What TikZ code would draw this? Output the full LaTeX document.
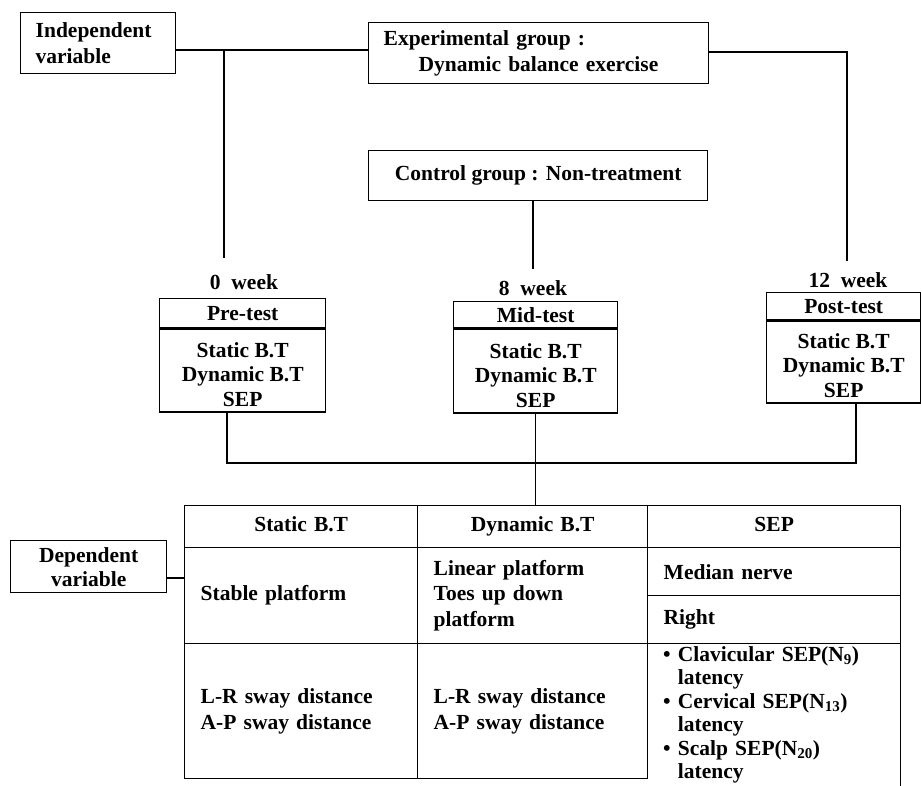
\documentclass[tikz,border=0pt]{standalone}
\usepackage{fontspec}
\setmainfont{Liberation Serif}
\begin{document}
\begin{tikzpicture}[x=1pt,y=-1pt,
  every node/.style={font=\fontsize{21.5}{25.5}\selectfont\bfseries},
  box/.style={draw, line width=1.4pt, inner sep=0pt},
  boxtext/.style={anchor=south, align=center, inner sep=0pt, font=\fontsize{21.5}{24.5}\selectfont\bfseries},
  cell/.style={draw, line width=1.4pt, anchor=north west, inner ysep=0pt, inner xsep=16pt, align=left},
  headcell/.style={cell, align=center, minimum height=42pt, text height=15pt, text depth=5pt},
  link/.style={line width=1.4pt}]
\useasboundingbox (0,0) rectangle (922,786);
\node[box, anchor=north west, minimum width=155pt, minimum height=61pt, text width=125pt, align=left] (indep) at (20,12) {Independent\\variable};
\node[box, anchor=north west, minimum width=340pt, minimum height=61pt, text width=310pt, align=left] (expgrp) at (368,22) {Experimental group :\\\hspace*{35pt}Dynamic balance exercise};
\node[box, anchor=north west, minimum width=339pt, minimum height=50pt] (ctrlgrp) at (368,150) {Control group : Non-treatment};
\node (wk0) at (244,282) {0\enspace week};
\node (wk8) at (533,288) {8\enspace week};
\node (wk12) at (848,280) {12\enspace week};
\node[box, anchor=north west, minimum width=166pt, minimum height=29pt] (prehead) at (159,298) {Pre-test};
\node[box, anchor=north, minimum width=166pt, minimum height=83pt] (prebody) at (prehead.south) {};
\node[boxtext] (pretext) at ([yshift=6pt]prebody.south) {Static B.T\\Dynamic B.T\\SEP};
\node[box, anchor=north west, minimum width=164pt, minimum height=26pt] (midhead) at (453,301) {Mid-test};
\node[box, anchor=north, minimum width=164pt, minimum height=84pt] (midbody) at (midhead.south) {};
\node[boxtext] (midtext) at ([yshift=6pt]midbody.south) {Static B.T\\Dynamic B.T\\SEP};
\node[box, anchor=north west, minimum width=154pt, minimum height=27pt] (posthead) at (766,292) {Post-test};
\node[box, anchor=north, minimum width=154pt, minimum height=82pt] (postbody) at (posthead.south) {};
\node[boxtext] (posttext) at ([yshift=6pt]postbody.south) {Static B.T\\Dynamic B.T\\SEP};
\coordinate (j0) at (224,50);
\coordinate (j0end) at (224,258);
\coordinate (jr) at (847,52);
\coordinate (jrend) at (847,261);
\coordinate (c8end) at (533,269);
\coordinate (b0) at (227,463);
\coordinate (b12) at (856,463);
\draw[link] (indep.east |- j0) -- (expgrp.west |- j0);
\draw[link] (j0) -- (j0end);
\draw[link] (expgrp.east |- jr) -- (jr) -- (jrend);
\draw[link] (ctrlgrp.south -| c8end) -- (c8end);
\draw[link] (prebody.south -| b0) -- (b0) -- (b12) -- (postbody.south -| b12);
\node[headcell, minimum width=233pt, text width=201pt] (statichead) at (184,505) {Static B.T};
\node[headcell, minimum width=230pt, text width=198pt] (dynhead) at (417,505) {Dynamic B.T};
\node[headcell, minimum width=253pt, text width=221pt] (sephead) at (647,505) {SEP};
\node[cell, minimum width=233pt, minimum height=96pt, text width=201pt] (staticplat) at (184,547) {Stable platform};
\node[cell, minimum width=230pt, minimum height=96pt, text width=198pt] (dynplat) at (417,547) {Linear platform\\Toes up down\\platform};
\node[cell, minimum width=253pt, minimum height=48pt, text width=221pt] (sepnerve) at (647,547) {Median nerve};
\node[cell, minimum width=253pt, minimum height=48pt, text width=221pt] (sepside) at (647,595) {Right};
\node[cell, minimum width=233pt, minimum height=135pt, text width=201pt] (staticres) at (184,643) {L-R sway distance\\A-P sway distance};
\node[cell, minimum width=230pt, minimum height=135pt, text width=198pt] (dynres) at (417,643) {L-R sway distance\\A-P sway distance};
\node[anchor=north west, inner xsep=16pt, inner ysep=3pt, text width=221pt, align=left, minimum height=143pt, font=\fontsize{21.5}{23.5}\selectfont\bfseries] (sepres) at (647,643) {\textbullet\ Clavicular SEP(N\textsubscript{9})\\\phantom{\textbullet\ }latency\\\textbullet\ Cervical SEP(N\textsubscript{13})\\\phantom{\textbullet\ }latency\\\textbullet\ Scalp SEP(N\textsubscript{20})\\\phantom{\textbullet\ }latency};
\draw[link] (sepres.north east) -- (sepres.south east);
\draw[link] (midbody.south) -- (midbody.south |- statichead.north);
\node[box, anchor=north west, minimum width=156pt, minimum height=52pt, align=center, font=\fontsize{21.5}{24}\selectfont\bfseries] (depvar) at (10,540) {Dependent\\variable};
\draw[link] (depvar.east |- 0,578) -- (staticplat.west |- 0,578);
\end{tikzpicture}
\end{document}
